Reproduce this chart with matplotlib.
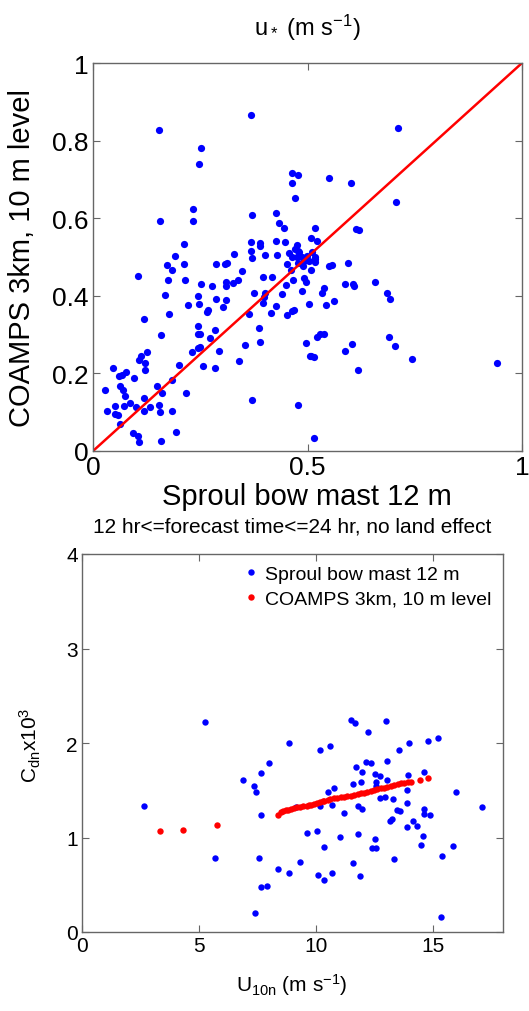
import matplotlib
matplotlib.use('Agg')
import matplotlib.pyplot as plt

plt.rcParams['font.family'] = ['Liberation Sans', 'DejaVu Sans']
plt.rcParams['mathtext.fontset'] = 'custom'
plt.rcParams['mathtext.rm'] = 'Liberation Sans'
plt.rcParams['mathtext.it'] = 'Liberation Sans:italic'
plt.rcParams['mathtext.default'] = 'regular'

# ---------------- data: u* scatter ----------------
ustar_mast = [0.153,0.368,0.252,0.248,0.463,0.477,0.463,0.472,0.232,0.156,
              0.232,0.370,0.426,0.434,0.446,0.212,0.191,0.329,0.368,0.368,
              0.389,0.390,0.400,0.427,0.448,0.430,0.456,0.476,0.477,0.508,
              0.711,0.550,0.601,0.706,0.517,0.522,0.613,0.619,0.472,0.464,
              0.476,0.487,0.499,0.510,0.491,0.503,0.518,0.479,0.509,0.462,
              0.493,0.496,0.371,0.173,0.183,0.212,0.287,0.308,0.312,0.347,
              0.104,0.174,0.215,0.252,0.278,0.310,0.310,0.326,0.338,0.396,
              0.417,0.467,0.449,0.452,0.167,0.245,0.287,0.311,0.376,0.402,
              0.398,0.397,0.441,0.487,0.503,0.221,0.247,0.302,0.267,0.266,
              0.427,0.469,0.465,0.176,0.363,0.416,0.452,0.118,0.388,0.245,
              0.284,0.244,0.249,0.273,0.159,0.389,0.354,0.249,0.245,0.294,
              0.231,0.125,0.111,0.107,0.121,0.122,0.200,0.256,0.285,0.341,
              0.497,0.505,0.047,0.076,0.061,0.068,0.096,0.185,0.064,0.069,
              0.149,0.027,0.075,0.161,0.217,0.120,0.086,0.051,0.072,0.101,
              0.133,0.155,0.120,0.032,0.051,0.058,0.157,0.183,0.370,0.479,
              0.064,0.193,0.093,0.106,0.108,0.158,0.518,0.517,0.549,0.556,
              0.595,0.538,0.534,0.588,0.606,0.609,0.658,0.685,0.693,0.544,
              0.561,0.521,0.528,0.539,0.690,0.703,0.604,0.588,0.509,0.514,
              0.744,0.941,0.618,0.516,0.481,0.490]
ustar_coamps = [0.828,0.865,0.782,0.739,0.717,0.712,0.691,0.653,0.624,0.594,
                0.593,0.607,0.614,0.587,0.575,0.534,0.502,0.509,0.539,0.515,
                0.537,0.528,0.506,0.540,0.538,0.505,0.510,0.532,0.516,0.549,
                0.832,0.703,0.692,0.641,0.574,0.541,0.572,0.570,0.521,0.501,
                0.501,0.501,0.503,0.512,0.490,0.490,0.499,0.484,0.467,0.466,
                0.446,0.436,0.497,0.479,0.466,0.482,0.483,0.482,0.484,0.464,
                0.451,0.441,0.441,0.430,0.426,0.436,0.425,0.432,0.441,0.449,
                0.449,0.441,0.429,0.482,0.401,0.400,0.393,0.389,0.407,0.407,
                0.396,0.382,0.405,0.413,0.378,0.376,0.379,0.372,0.364,0.357,
                0.375,0.363,0.362,0.353,0.353,0.355,0.351,0.339,0.317,0.323,
                0.312,0.302,0.301,0.290,0.299,0.281,0.272,0.268,0.265,0.259,
                0.256,0.256,0.245,0.235,0.227,0.210,0.222,0.218,0.213,0.233,
                0.278,0.244,0.215,0.204,0.193,0.195,0.189,0.182,0.168,0.158,
                0.167,0.157,0.143,0.149,0.150,0.137,0.125,0.116,0.116,0.114,
                0.113,0.118,0.104,0.103,0.096,0.093,0.101,0.102,0.131,0.119,
                0.069,0.048,0.046,0.039,0.024,0.025,0.495,0.486,0.478,0.480,
                0.484,0.420,0.407,0.430,0.430,0.425,0.435,0.407,0.391,0.376,
                0.387,0.293,0.302,0.302,0.295,0.270,0.275,0.257,0.246,0.241,
                0.237,0.227,0.208,0.034,0.512,0.478]
top_ticks_x = [0, 0.5, 1]
top_ticks_y = [0, 0.2, 0.4, 0.6, 0.8, 1]

# ---------------- data: Cdn vs U10n ----------------
u10n_mast = [2.65,5.26,5.70,6.88,7.35,7.43,7.67,8.01,8.84,7.67,
             7.58,8.38,8.86,9.32,7.67,7.92,7.38,9.16,12.21,15.23,
             14.78,13.99,10.16,10.62,13.54,12.13,12.37,13.04,11.71,11.97,
             12.53,12.73,13.04,13.92,14.62,11.93,11.57,12.57,12.57,10.76,
             10.53,13.89,15.98,12.75,12.95,13.28,10.16,10.67,11.81,11.96,
             11.20,13.88,13.45,13.61,14.64,14.61,14.89,13.24,13.18,14.14,
             13.88,14.32,17.11,9.62,10.03,11.03,11.81,12.53,14.58,10.35,
             12.40,12.56,14.48,15.87,15.40,13.35,11.57,10.09,10.35,10.67,
             11.87,15.33,11.50,11.69,12.98]
cdn_mast = [1.337,2.222,0.780,1.608,1.548,1.485,1.686,1.792,2.000,1.241,
            0.786,0.670,0.628,0.744,0.480,0.487,0.198,1.323,2.120,2.056,
            2.024,1.997,1.923,1.968,1.929,1.795,1.785,1.810,1.743,1.690,
            1.669,1.648,1.612,1.661,1.690,1.584,1.562,1.584,1.550,1.520,
            1.478,1.506,1.478,1.418,1.429,1.411,1.337,1.344,1.333,1.302,
            1.259,1.368,1.287,1.280,1.302,1.252,1.235,1.196,1.171,1.178,
            1.108,1.118,1.319,1.048,1.069,1.002,1.034,0.984,1.016,0.899,
            0.889,0.889,0.921,0.914,0.801,0.772,0.727,0.606,0.553,0.628,
            0.593,0.155,2.247,2.212,2.230]
u10n_coamps = [3.33,4.32,5.76,8.38,8.51,8.61,8.72,8.82,8.94,9.05,
               9.18,9.30,9.45,9.60,9.72,9.80,9.93,10.05,10.18,10.30,
               10.36,10.50,10.62,10.79,10.92,11.07,11.20,11.33,11.50,11.62,
               11.78,11.93,12.05,12.20,12.36,12.48,12.62,12.78,12.90,13.05,
               13.21,13.35,13.50,13.64,13.78,13.92,14.07,14.46,14.78]
cdn_coamps = [1.065,1.076,1.129,1.240,1.273,1.284,1.288,1.294,1.302,1.312,
              1.318,1.326,1.332,1.338,1.344,1.348,1.354,1.362,1.372,1.382,
              1.390,1.396,1.404,1.414,1.418,1.425,1.430,1.436,1.442,1.452,
              1.462,1.471,1.476,1.482,1.489,1.498,1.508,1.520,1.528,1.536,
              1.548,1.556,1.565,1.574,1.580,1.585,1.590,1.612,1.627]
bot_ticks_x = [0, 5, 10, 15]
bot_ticks_y = [0, 1, 2, 3, 4]

W, H = 529, 1012
fig = plt.figure(figsize=(W / 100, H / 100), dpi=100)
fig.patch.set_facecolor('white')

def style(ax, fs):
    for s in ax.spines.values():
        s.set_color('#666666')
        s.set_linewidth(1.0)
    ax.tick_params(direction='in', top=True, right=True, length=5,
                   width=0.8, color='#666666', labelsize=fs, labelcolor='black',
                   pad=3)

# ---------- top panel ----------
ax1 = fig.add_axes([93 / W, 1 - 452 / H, 429 / W, 388 / H])
ax1.plot(ustar_mast, ustar_coamps, 'o', color='#0000ff', ms=5.2, mew=0)
ax1.plot([0, 1], [0, 1], color='#ff0000', lw=1.8, solid_capstyle='butt')
ax1.set_xlim(0, 1)
ax1.set_ylim(0, 1)
ax1.set_xticks(top_ticks_x)
ax1.set_xticklabels(['0', '0.5', '1'])
ax1.set_yticks(top_ticks_y)
ax1.set_yticklabels(['0', '0.2', '0.4', '0.6', '0.8', '1'])
style(ax1, 19)

fig.text(307 / W, 1 - 28 / H, 'u$_*$ (m s$^{-1}$)', ha='center', va='center',
         fontsize=17)
fig.text(307 / W, 1 - 497 / H, 'Sproul bow mast 12 m', ha='center',
         va='center', fontsize=21)
fig.text(22 / W, 1 - 258 / H, 'COAMPS 3km, 10 m level', ha='center',
         va='center', rotation=90, fontsize=21)

# ---------- bottom panel ----------
ax2 = fig.add_axes([82 / W, 1 - 933 / H, 421 / W, 378 / H])
ax2.plot(u10n_mast, cdn_mast, 'o', color='#0000ff', ms=4.6, mew=0,
         label='Sproul bow mast 12 m')
ax2.plot(u10n_coamps, cdn_coamps, 'o', color='#ff0000', ms=4.6, mew=0,
         label='COAMPS 3km, 10 m level')
ax2.set_xlim(0, 18)
ax2.set_ylim(0, 4)
ax2.set_xticks(bot_ticks_x)
ax2.set_yticks(bot_ticks_y)
style(ax2, 15)
ax2.legend(loc='upper right', frameon=False, fontsize=14, handletextpad=0.2,
           handlelength=1.0, labelspacing=0.35, borderaxespad=0.2,
           markerscale=1.0)

fig.text(292 / W, 1 - 527 / H, '12 hr<=forecast time<=24 hr, no land effect',
         ha='center', va='center', fontsize=15)
fig.text(292 / W, 1 - 985 / H, 'U$_{10n}$ (m s$^{-1}$)', ha='center',
         va='center', fontsize=15)
fig.text(30 / W, 1 - 745 / H, 'C$_{dn}$x10$^{3}$', ha='center', va='center',
         rotation=90, fontsize=15)

fig.savefig('out.png', dpi=100)
